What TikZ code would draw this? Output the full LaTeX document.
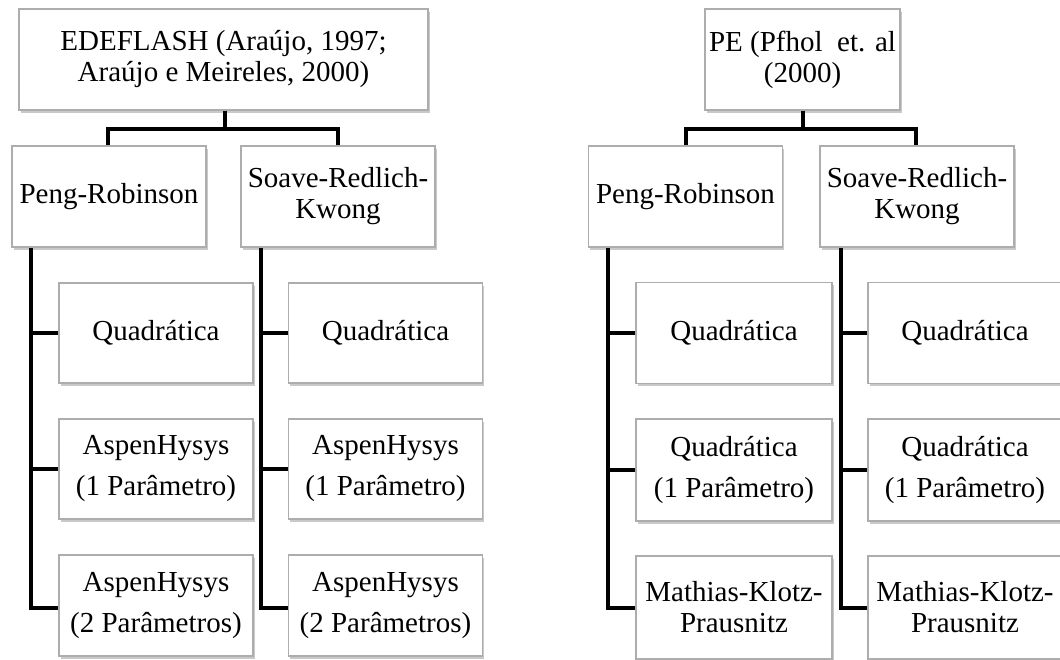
\documentclass[tikz,border=0pt]{standalone}
\usepackage{fontspec}
\setmainfont{Liberation Serif}
\usetikzlibrary{shadows}
\begin{document}
\begin{tikzpicture}[x=1pt,y=-1pt,
  box/.style={draw=black!32, line width=1.1pt, fill=white, minimum width=194pt, minimum height=101pt,
    inner sep=0pt, align=center, font=\fontsize{29}{31}\selectfont,
    drop shadow={shadow xshift=1.5pt, shadow yshift=-2.5pt, opacity=0.35, fill=black!60}},
  conn/.style={draw=black, line width=4pt}]
\useasboundingbox[fill=white] (0,0) rectangle (1060,659);
% left tree
\node[box, minimum width=409pt] (ede) at (223.5,59.5) {EDEFLASH (Araújo, 1997;\\Araújo e Meireles, 2000)};
\node[box] (pr1) at (109,196.5) {Peng-Robinson};
\node[box] (srk1) at (338,196.5) {Soave-Redlich-\\Kwong};
\node[box, minimum height=100pt] (q1a) at (156,333) {Quadrática};
\node[box, minimum height=100pt] (a1a) at (156,469) {AspenHysys\\[10pt](1 Parâmetro)};
\node[box] (a2a) at (156,605.5) {AspenHysys\\[10pt](2 Parâmetros)};
\node[box, minimum height=100pt] (q1b) at (385.5,333) {Quadrática};
\node[box, minimum height=100pt] (a1b) at (385.5,469) {AspenHysys\\[10pt](1 Parâmetro)};
\node[box] (a2b) at (385.5,605.5) {AspenHysys\\[10pt](2 Parâmetros)};
% right tree
\node[box, minimum width=195pt] (pe) at (802.5,59.5) {PE (Pfhol\ \ et. al\\(2000)};
\node[box] (pr2) at (685.5,196.5) {Peng-Robinson};
\node[box] (srk2) at (917,196.5) {Soave-Redlich-\\Kwong};
\node[box, minimum width=196pt, minimum height=101pt] (q2a) at (734,333) {Quadrática};
\node[box, minimum width=196pt, minimum height=102pt] (b2a) at (734,470) {Quadrática\\[10pt](1 Parâmetro)};
\node[box, minimum width=196pt, minimum height=103pt] (m2a) at (734,607.5) {Mathias-Klotz-\\Prausnitz};
\node[box, minimum height=101pt] (q2b) at (965,333) {Quadrática};
\node[box, minimum height=102pt] (b2b) at (965,470) {Quadrática\\[10pt](1 Parâmetro)};
\node[box, minimum height=103pt] (m2b) at (965,607.5) {Mathias-Klotz-\\Prausnitz};
% connectors left tree
\coordinate (j1) at ([xshift=1.5pt, yshift=-18pt]ede.south);
\draw[conn] (ede.south -| j1) -- (j1);
\draw[conn] (j1) -| ([xshift=-1pt]pr1.north);
\draw[conn] (j1) -| (srk1.north);
\coordinate (t1) at ([xshift=20pt]pr1.south west);
\draw[conn] (t1) |- ([yshift=-2.5pt]a2a.west);
\draw[conn] (q1a.west) -- (q1a.west -| t1);
\draw[conn] (a1a.west) -- (a1a.west -| t1);
\coordinate (t2) at ([xshift=21pt]srk1.south west);
\draw[conn] (t2) |- ([yshift=-2.5pt]a2b.west);
\draw[conn] (q1b.west) -- (q1b.west -| t2);
\draw[conn] (a1b.west) -- (a1b.west -| t2);
% connectors right tree
\coordinate (j2) at ([xshift=0.5pt, yshift=-18pt]pe.south);
\draw[conn] (pe.south -| j2) -- (j2);
\draw[conn] (j2) -| (pr2.north);
\draw[conn] (j2) -| ([xshift=-1pt]srk2.north);
\coordinate (t3) at ([xshift=20pt]pr2.south west);
\draw[conn] (t3) |- (m2a.west);
\draw[conn] (q2a.west) -- (q2a.west -| t3);
\draw[conn] (b2a.west) -- (b2a.west -| t3);
\coordinate (t4) at ([xshift=22pt]srk2.south west);
\draw[conn] (t4) |- (m2b.west);
\draw[conn] (q2b.west) -- (q2b.west -| t4);
\draw[conn] (b2b.west) -- (b2b.west -| t4);
\end{tikzpicture}
\end{document}
